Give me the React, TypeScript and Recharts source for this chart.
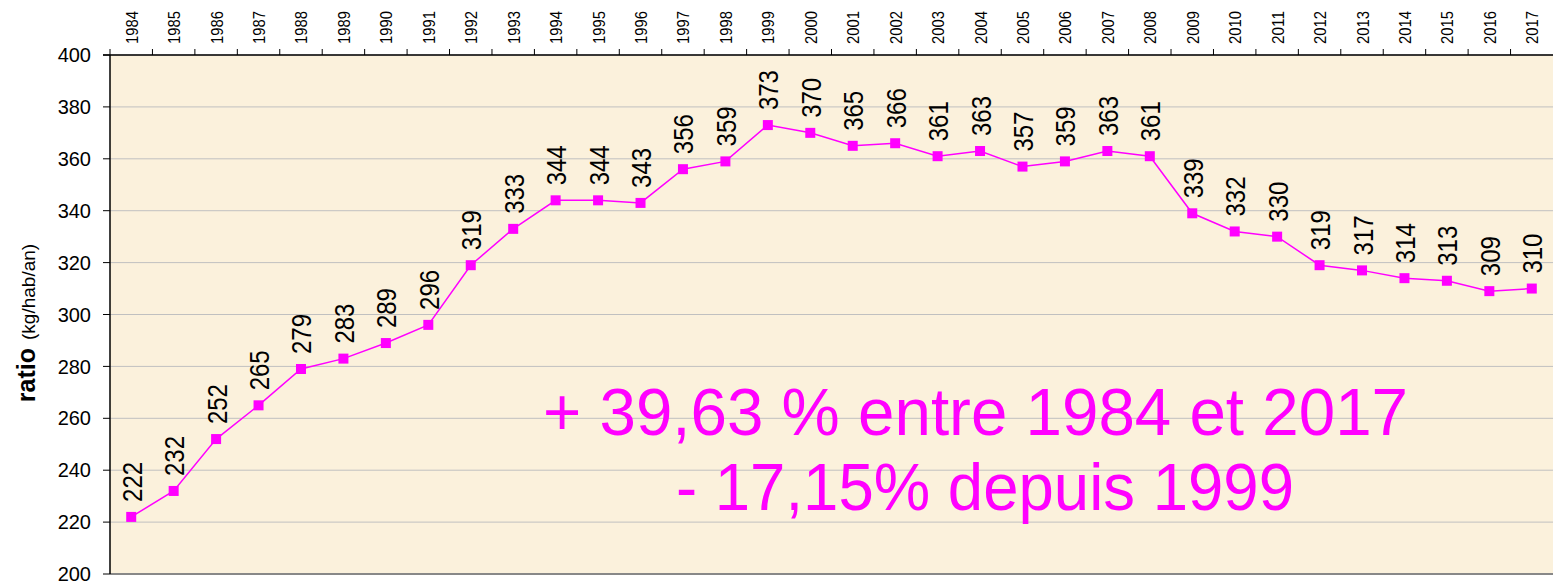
import React from "react";
import {
  ComposedChart,
  Line,
  XAxis,
  YAxis,
  CartesianGrid,
  LabelList,
  Customized,
} from "recharts";

const years = [
  "1984", "1985", "1986", "1987", "1988", "1989", "1990", "1991", "1992", "1993",
  "1994", "1995", "1996", "1997", "1998", "1999", "2000", "2001", "2002", "2003",
  "2004", "2005", "2006", "2007", "2008", "2009", "2010", "2011", "2012", "2013",
  "2014", "2015", "2016", "2017",
];
const ratios = [
  222, 232, 252, 265, 279, 283, 289, 296, 319, 333,
  344, 344, 343, 356, 359, 373, 370, 365, 366, 361,
  363, 357, 359, 363, 361, 339, 332, 330, 319, 317,
  314, 313, 309, 310,
];
const yTicks = [200, 220, 240, 260, 280, 300, 320, 340, 360, 380, 400];
const annotationLine1 = "+ 39,63 % entre 1984 et 2017";
const annotationLine2 = "- 17,15% depuis 1999";
const yLabelBold = "ratio";
const yLabelUnit = "(kg/hab/an)";

const data = years.map((y, i) => ({ year: y, v: ratios[i] }));

const W = 1553;
const H = 583;
const MAGENTA = "#FF00FF";

const YearTick = (props: any) => {
  const { x, y, payload } = props;
  const off = payload && typeof payload.offset === "number" && payload.offset > 0
    ? payload.offset
    : (W - 110) / years.length / 2;
  const tx = x + 1;
  const ty = y - 11;
  return (
    <g>
      <line x1={x - off} x2={x - off} y1={y} y2={y - 6} stroke="#000" strokeWidth={1} />
      <text
        x={tx}
        y={ty}
        transform={`rotate(-90 ${tx} ${ty})`}
        textAnchor="start"
        dominantBaseline="central"
        fontFamily="Liberation Sans, Arial, sans-serif"
        fontSize={17}
        textLength={33}
        lengthAdjust="spacingAndGlyphs"
        fill="#000"
      >
        {payload.value}
      </text>
    </g>
  );
};

const SquareDot = (props: any) => {
  const { cx, cy } = props;
  if (cx == null || cy == null) return null;
  return <rect x={cx - 5} y={cy - 5} width={10} height={10} fill={MAGENTA} />;
};

const ValueLabel = (props: any) => {
  const { x, y, value } = props;
  const tx = x + 1;
  const ty = y - 15;
  return (
    <text
      x={tx}
      y={ty}
      transform={`rotate(-90 ${tx} ${ty})`}
      textAnchor="start"
      dominantBaseline="central"
      fontFamily="Liberation Sans, Arial, sans-serif"
      fontSize={28}
      textLength={40}
      lengthAdjust="spacingAndGlyphs"
      fill="#000"
    >
      {value}
    </text>
  );
};

const Overlay = () => (
  <g>
    <text
      x={35}
      y={323}
      transform="rotate(-90 35 323)"
      textAnchor="middle"
      fontFamily="Liberation Sans, Arial, sans-serif"
      fill="#000"
    >
      <tspan fontWeight="bold" fontSize={25}>{yLabelBold}</tspan>
      <tspan fontSize={19} dx={8}>{yLabelUnit}</tspan>
    </text>
    <text
      x={543}
      y={435}
      fontFamily="Liberation Sans, Arial, sans-serif"
      fontSize={66}
      textLength={865}
      lengthAdjust="spacingAndGlyphs"
      fill={MAGENTA}
    >
      {annotationLine1}
    </text>
    <text
      x={676}
      y={510}
      fontFamily="Liberation Sans, Arial, sans-serif"
      fontSize={66}
      textLength={618}
      lengthAdjust="spacingAndGlyphs"
      fill={MAGENTA}
    >
      {annotationLine2}
    </text>
    <line x1={110} x2={W} y1={574} y2={574} stroke="#888" strokeWidth={2} />
    <line x1={103} x2={110} y1={55} y2={55} stroke="#000" strokeWidth={1.5} />
  </g>
);

export default function App() {
  return (
    <div style={{ position: "absolute", left: 0, top: 0, width: W, height: H, background: "#fff" }}>
      <ComposedChart
        width={W}
        height={H}
        data={data}
        margin={{ top: 0, right: 0, bottom: 9, left: 0 }}
      >
        <CartesianGrid
          vertical={false}
          stroke="#C0C0C0"
          strokeWidth={1}
          fill="#FBF1DC"
          fillOpacity={1}
        />
        <XAxis
          dataKey="year"
          orientation="top"
          scale="band"
          height={55}
          interval={0}
          tickSize={0}
          tickMargin={0}
          tickLine={false}
          axisLine={{ stroke: "#000", strokeWidth: 1.5 }}
          tick={<YearTick />}
        />
        <YAxis
          domain={[200, 400]}
          ticks={yTicks}
          width={110}
          interval={0}
          tickSize={7}
          tickMargin={12}
          axisLine={{ stroke: "#000", strokeWidth: 1.5 }}
          tickLine={{ stroke: "#000", strokeWidth: 1 }}
          tick={{ fill: "#000", fontSize: 20, fontFamily: "Liberation Sans, Arial, sans-serif" }}
          allowDataOverflow
        />
        <Line
          dataKey="v"
          stroke={MAGENTA}
          strokeWidth={1.5}
          dot={<SquareDot />}
          activeDot={false}
          isAnimationActive={false}
        >
          <LabelList dataKey="v" content={<ValueLabel />} />
        </Line>
        <Customized component={<Overlay />} />
      </ComposedChart>
    </div>
  );
}
